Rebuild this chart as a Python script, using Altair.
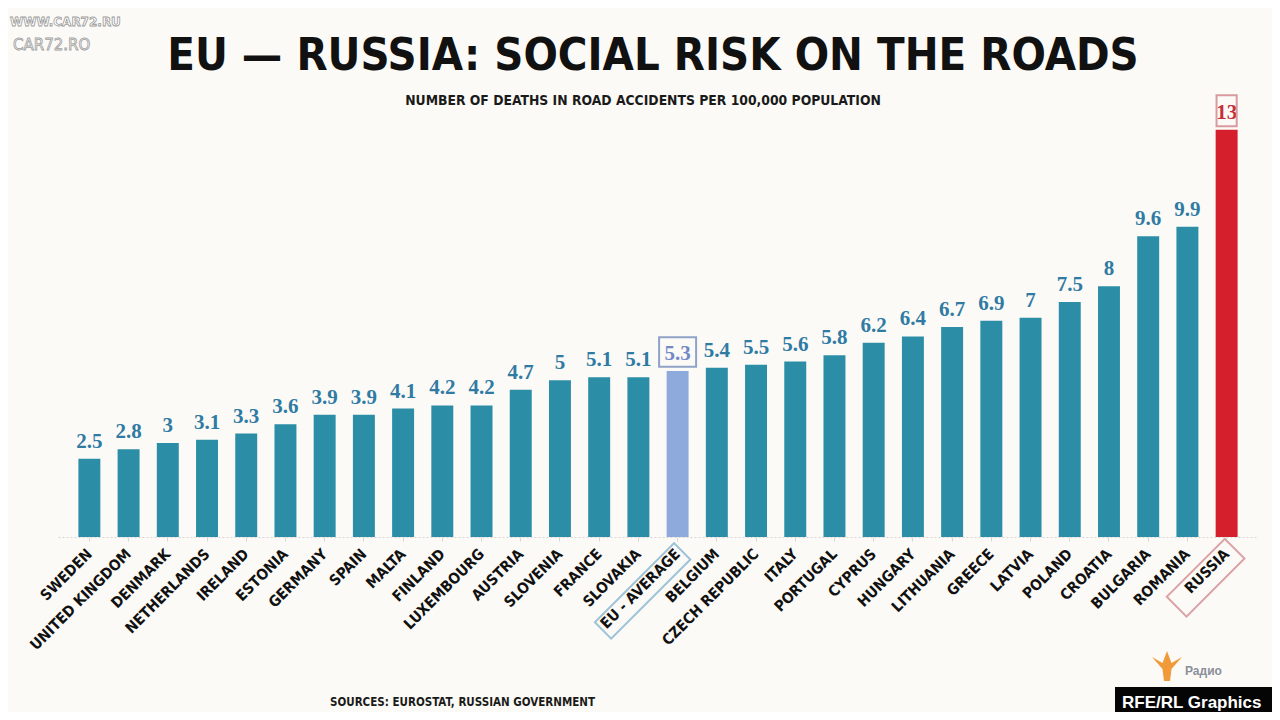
import altair as alt
import pandas as pd

countries = ["SWEDEN", "UNITED KINGDOM", "DENMARK", "NETHERLANDS", "IRELAND", "ESTONIA",
             "GERMANY", "SPAIN", "MALTA", "FINLAND", "LUXEMBOURG", "AUSTRIA", "SLOVENIA",
             "FRANCE", "SLOVAKIA", "EU - AVERAGE", "BELGIUM", "CZECH REPUBLIC", "ITALY",
             "PORTUGAL", "CYPRUS", "HUNGARY", "LITHUANIA", "GREECE", "LATVIA", "POLAND",
             "CROATIA", "BULGARIA", "ROMANIA", "RUSSIA"]
deaths = [2.5, 2.8, 3, 3.1, 3.3, 3.6, 3.9, 3.9, 4.1, 4.2, 4.2, 4.7, 5, 5.1, 5.1, 5.3,
          5.4, 5.5, 5.6, 5.8, 6.2, 6.4, 6.7, 6.9, 7, 7.5, 8, 9.6, 9.9, 13]
groups = ["EU member"] * 15 + ["EU average"] + ["EU member"] * 13 + ["Russia"]

title_text = "EU — RUSSIA: SOCIAL RISK ON THE ROADS"
subtitle_text = "NUMBER OF DEATHS IN ROAD ACCIDENTS PER 100,000 POPULATION"
source_text = "SOURCES: EUROSTAT, RUSSIAN GOVERNMENT"

group_domain = ["EU member", "EU average", "Russia"]
bar_colors = ["#2b8ea6", "#8eaadc", "#d51f2d"]
text_colors = ["#2f7ba4", "#7389c6", "#c4303a"]
box_colors = ["#2f7ba4", "#8fa3c8", "#d99aa0"]
label_box_colors = ["#2f7ba4", "#9cc3d8", "#dba2a8"]

df = pd.DataFrame({"country": countries, "deaths": deaths, "group": groups})

COND = "DejaVu Sans Condensed, Roboto Condensed, Roboto, sans-serif"
SERIF = "Liberation Serif, DejaVu Serif, serif"

x = alt.X("country:N", sort=countries, title=None,
          scale=alt.Scale(paddingInner=0.44, paddingOuter=0.52),
          axis=alt.Axis(labelAngle=315, labelAlign="right", labelBaseline="middle",
                        labelFont=COND, labelFontWeight="bold", labelFontSize=15,
                        labelColor="#111111", labelPadding=10, labelLimit=300,
                        domainColor="#d6d6d6", domainDash=[2, 2], tickColor="#d6d6d6",
                        tickSize=4))
y = alt.Y("deaths:Q", title=None, scale=alt.Scale(domain=[0, 13.5], nice=False), axis=None)

base = alt.Chart(df)

bars = base.mark_bar().encode(
    x=x, y=y,
    color=alt.Color("group:N", scale=alt.Scale(domain=group_domain, range=bar_colors), legend=None),
)

values = base.mark_text(font=SERIF, fontWeight="bold", fontSize=21, dy=-11,
                        baseline="alphabetic").encode(
    x=alt.X("country:N", sort=countries),
    y="deaths:Q",
    text="deaths:Q",
    color=alt.Color("group:N", scale=alt.Scale(domain=group_domain, range=text_colors), legend=None),
)

eu_val_box = base.transform_filter(alt.datum.group == "EU average").mark_point(
    shape="M-1,-0.8L1,-0.8L1,0.8L-1,0.8Z", size=1369, filled=False,
    stroke=box_colors[1], strokeWidth=2, yOffset=-19, opacity=1).encode(
    x=alt.X("country:N", sort=countries), y="deaths:Q")

ru_val_box = base.transform_filter(alt.datum.group == "Russia").mark_point(
    shape="M-0.65,-1L0.65,-1L0.65,1L-0.65,1Z", size=961, filled=False,
    stroke=box_colors[2], strokeWidth=2, yOffset=-19, opacity=1).encode(
    x=alt.X("country:N", sort=countries), y="deaths:Q")

eu_lab_box = base.transform_filter(alt.datum.group == "EU average").mark_point(
    shape="M-1,-0.205L1,-0.205L1,0.205L-1,0.205Z", size=12544, filled=False, angle=315,
    stroke=label_box_colors[1], strokeWidth=2, xOffset=-35, opacity=1).encode(
    x=alt.X("country:N", sort=countries), y=alt.datum(-1.72))

ru_lab_box = base.transform_filter(alt.datum.group == "Russia").mark_point(
    shape="M-1,-0.34L1,-0.34L1,0.34L-1,0.34Z", size=6724, filled=False, angle=315,
    stroke=label_box_colors[2], strokeWidth=2, xOffset=-21, opacity=1).encode(
    x=alt.X("country:N", sort=countries), y=alt.datum(-1.3))


def label(text, px, py, **kw):
    return alt.Chart(pd.DataFrame({"t": [text]})).mark_text(**kw).encode(
        x=alt.value(px), y=alt.value(py), text="t:N")


title = label(title_text, 595, -44, font=COND, fontWeight="bold", fontSize=45,
              align="center", baseline="alphabetic", color="#111111")
subtitle = label(subtitle_text, 585, -9, font=COND, fontWeight="bold", fontSize=13.8,
                 align="center", baseline="alphabetic", color="#1a1a1a")
sources = label(source_text, 272, 592, font=COND, fontWeight="bold", fontSize=11.5,
                align="left", baseline="alphabetic", color="#1a1a1a")

wm1 = label("WWW.CAR72.RU", -48, -88, font="DejaVu Sans", fontWeight="bold", fontSize=12,
            align="left", baseline="alphabetic", color="#ffffff", stroke="#9a9a9a",
            strokeWidth=0.8)
wm2 = label("CAR72.RO", -45, -64, font="DejaVu Sans", fontSize=15, align="left",
            baseline="alphabetic", color="#ffffff", stroke="#a0a0a0", strokeWidth=0.8)

logo_box = alt.Chart(pd.DataFrame({"a": [1]})).mark_rect(color="#050505").encode(
    x=alt.value(1057), x2=alt.value(1214), y=alt.value(573), y2=alt.value(600))

logo_text = label("RFE/RL Graphics", 1064, 594, font="Liberation Sans", fontWeight="bold",
                  fontSize=17, align="left", baseline="alphabetic", color="#ffffff")

radio_text = label("Радио", 1127, 561, font="Liberation Sans", fontWeight="bold",
                   fontSize=12, align="left", baseline="alphabetic", color="#8a8f9c")

flame = alt.Chart(pd.DataFrame({"a": [1]})).mark_point(
    shape="M-0.2,1L0.2,1L0.3,0.2L1,-0.6L0.3,-0.2L0,-1L-0.3,-0.2L-1,-0.6L-0.3,0.2Z",
    size=900, filled=True, color="#f09a3a", opacity=1).encode(
    x=alt.value(1109), y=alt.value(552))

chart = alt.layer(
    bars, values, eu_val_box, ru_val_box, eu_lab_box, ru_lab_box,
    title, subtitle, sources, wm1, wm2, flame, radio_text, logo_box, logo_text
).resolve_scale(color="independent").properties(
    width=1200, height=423,
    background="#fcfaf6",
    padding={"left": 50, "top": 106, "right": 14, "bottom": 175},
    autosize=alt.AutoSizeParams(type="none"),
).configure_view(stroke=None)

chart.save("out.html", embed_options={"renderer": "svg", "actions": False})
